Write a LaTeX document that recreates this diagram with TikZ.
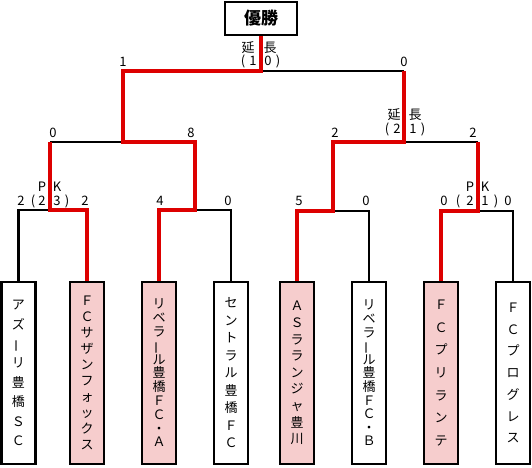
\documentclass[tikz,border=0pt]{standalone}
\usepackage{fontspec}
\usepackage{graphicx}
\setmainfont{Noto Sans CJK JP}
\definecolor{winred}{HTML}{DD0000}
\definecolor{winpink}{HTML}{F6CDCD}
\newcommand\vbar{\rotatebox[origin=c]{90}{ー}}
\newcommand\sclabel[4]{\node[sc] (#1) at (#2,#3+4.8) {#4};}
\begin{document}
\begin{tikzpicture}[x=1pt,y=-1pt,
  sc/.style={anchor=base,inner sep=0pt,font=\fontsize{13}{13}\selectfont},
  team/.style={draw,line width=2.2pt,minimum width=34pt,minimum height=182pt,inner sep=0pt,align=center},
  pk/.style={fill=winpink},
  blk/.style={line width=2.2pt,black},
  wl/.style={line width=3.2pt,winred}]
\useasboundingbox (0,0) rectangle (532,467);
% winner box
\node[draw,line width=2.4pt,minimum width=72pt,minimum height=33pt,inner sep=0pt,
  font=\bfseries\fontsize{17}{17}\selectfont] (win) at (261,18.5) {優勝};
% teams
\node[team,font=\fontsize{13}{19.4}\selectfont] (t1) at (18.5,373) {ア\\ズ\\\vbar\\リ\\豊\\橋\\Ｓ\\Ｃ};
\node[team,pk,font=\fontsize{13}{16}\selectfont] (t2) at (87,373) {Ｆ\\Ｃ\\サ\\ザ\\ン\\フ\\ォ\\ッ\\ク\\ス};
\node[team,pk,font=\fontsize{13}{13.8}\selectfont] (t3) at (159,373) {リ\\ベ\\ラ\\\vbar\\ル\\豊\\橋\\Ｆ\\Ｃ\\・\\Ａ};
\node[team,font=\fontsize{13}{17.5}\selectfont] (t4) at (231,373) {セ\\ン\\ト\\ラ\\ル\\豊\\橋\\Ｆ\\Ｃ};
\node[team,pk,font=\fontsize{13}{16.6}\selectfont] (t5) at (297,373) {Ａ\\Ｓ\\ラ\\ラ\\ン\\ジ\\ャ\\豊\\川};
\node[team,font=\fontsize{13}{13.6}\selectfont] (t6) at (369,373) {リ\\ベ\\ラ\\\vbar\\ル\\豊\\橋\\Ｆ\\Ｃ\\・\\Ｂ};
\node[team,pk,font=\fontsize{13}{22.7}\selectfont] (t7) at (441,373) {Ｆ\\Ｃ\\プ\\リ\\ラ\\ン\\テ};
\node[team,font=\fontsize{13}{21.7}\selectfont] (t8) at (513,373) {Ｆ\\Ｃ\\プ\\ロ\\グ\\レ\\ス};
% junctions
\coordinate (F) at (261,71);
\coordinate (FL) at (123,71);
\coordinate (FR) at (404,71);
\coordinate (SLa) at (50,142);
\coordinate (SLm) at (123,142);
\coordinate (SLb) at (195,142);
\coordinate (SRa) at (333,142);
\coordinate (SRm) at (404,142);
\coordinate (SRb) at (478,142);
\coordinate (Q1m) at (50,210);
\coordinate (Q2m) at (195,210);
\coordinate (Q3m) at (333,211);
\coordinate (Q4m) at (478,211);
% black lines
\draw[blk] (t1.north) |- (Q1m);
\draw[blk] (t4.north) |- (Q2m);
\draw[blk] (SLa) -- (SLm);
\draw[blk] (F) -- (FR);
\draw[blk] (SRm) -- (SRb);
\draw[blk] (t6.north) |- (Q3m);
\draw[blk] (t8.north) |- (Q4m);
% red lines
\draw[wl] (win.south) -- (F) -- (FL) -- (SLm) -- (SLb) -- (Q2m) -| (t3.north);
\draw[wl] (SLa) -- (Q1m) -| (t2.north);
\draw[wl] (FR) -- (SRm) -- (SRa) -- (Q3m) -| (t5.north);
\draw[wl] (SRb) -- (Q4m) -| (t7.north);
% labels top
\sclabel{a1}{248}{48}{延}
\sclabel{a2}{270}{48}{長}
\sclabel{a3}{243}{61}{(}
\sclabel{a4}{253}{61}{1}
\sclabel{a5}{268}{61}{0}
\sclabel{a6}{278}{61}{)}
\sclabel{a7}{123}{62}{1}
\sclabel{a8}{404}{62}{0}
% semi labels
\sclabel{b1}{53}{133}{0}
\sclabel{b2}{191}{133}{8}
\sclabel{b3}{335}{133}{2}
\sclabel{b4}{473}{133}{2}
\sclabel{b5}{394}{115}{延}
\sclabel{b6}{415}{115}{長}
\sclabel{b7}{387}{129}{(}
\sclabel{b8}{397}{129}{2}
\sclabel{b9}{413}{129}{1}
\sclabel{b10}{423}{129}{)}
% quarter labels left
\sclabel{c1}{42}{187}{P}
\sclabel{c2}{57}{187}{K}
\sclabel{c3}{21}{201}{2}
\sclabel{c4}{33}{201}{(}
\sclabel{c5}{42}{201}{2}
\sclabel{c6}{57}{201}{3}
\sclabel{c7}{67}{201}{)}
\sclabel{c8}{85}{201}{2}
\sclabel{c9}{160}{201}{4}
\sclabel{c10}{228}{201}{0}
% quarter labels right
\sclabel{d1}{299}{201}{5}
\sclabel{d2}{366}{201}{0}
\sclabel{d3}{470}{187}{P}
\sclabel{d4}{485}{187}{K}
\sclabel{d5}{444}{201}{0}
\sclabel{d6}{458}{201}{(}
\sclabel{d7}{470}{201}{2}
\sclabel{d8}{485}{201}{1}
\sclabel{d9}{496}{201}{)}
\sclabel{d10}{508}{201}{0}
\end{tikzpicture}
\end{document}
